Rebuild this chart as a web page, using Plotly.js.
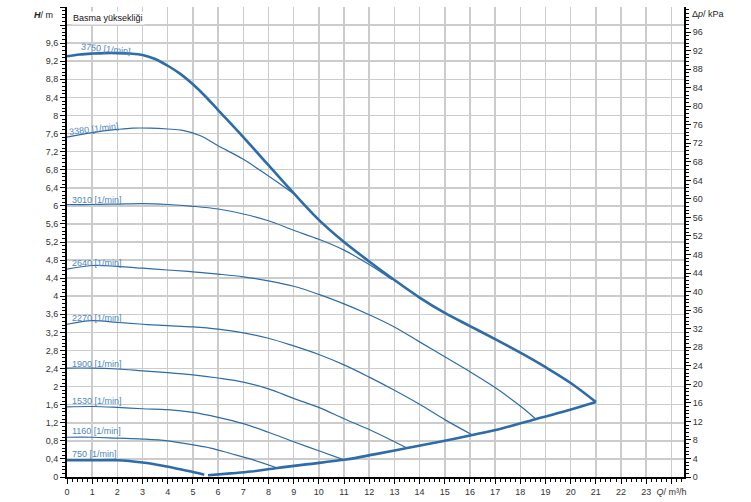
<!DOCTYPE html>
<html>
<head>
<meta charset="utf-8">
<script src="https://cdn.plot.ly/plotly-3.0.1.min.js"></script>
<style>html,body{margin:0;padding:0;background:#fff;}#chart{width:751px;height:502px;}</style>
</head>
<body>
<div id="chart"></div>
<script>
// Speed curves: flow Q (m³/h) and head H (m)
const q3750 = [0, 0.5, 1, 1.5, 2, 2.5, 3, 3.5, 4, 4.5, 5, 5.5, 6, 7, 8, 9, 10, 11, 12, 13, 14, 15, 16, 17, 18, 19, 20, 21];
const h3750 = [9.31, 9.35, 9.37, 9.38, 9.38, 9.37, 9.34, 9.25, 9.10, 8.92, 8.69, 8.42, 8.12, 7.52, 6.90, 6.28, 5.69, 5.20, 4.77, 4.36, 3.97, 3.63, 3.34, 3.05, 2.75, 2.43, 2.08, 1.66];
const q3380 = [0, 1, 2, 2.6, 3.3, 4, 4.6, 5.3, 6, 7, 8, 8.6, 9];
const h3380 = [7.52, 7.62, 7.69, 7.72, 7.72, 7.70, 7.67, 7.55, 7.33, 7.03, 6.66, 6.43, 6.27];
const q3010 = [0, 1, 2, 3, 4, 5, 6, 7, 8, 9, 10, 11, 12, 12.9];
const h3010 = [6.03, 6.03, 6.04, 6.05, 6.03, 5.99, 5.93, 5.82, 5.67, 5.46, 5.26, 5.02, 4.70, 4.37];
const q2640 = [0, 1, 2, 3, 4, 5, 6, 7, 8, 9, 10, 11, 12, 13, 14, 15, 16, 17, 18, 18.6];
const h2640 = [4.60, 4.68, 4.66, 4.62, 4.58, 4.54, 4.49, 4.43, 4.34, 4.22, 4.04, 3.83, 3.59, 3.32, 2.99, 2.66, 2.33, 1.98, 1.57, 1.29];
const q2270 = [0, 1, 2, 3, 4, 5, 6, 7, 8, 9, 10, 11, 12, 13, 14, 15, 16.1];
const h2270 = [3.38, 3.46, 3.42, 3.38, 3.35, 3.32, 3.27, 3.19, 3.07, 2.90, 2.71, 2.48, 2.21, 1.92, 1.61, 1.27, 0.93];
const q1900 = [0, 1, 2, 3, 4, 5, 6, 7, 8, 9, 10, 11, 12, 13, 13.5];
const h1900 = [2.41, 2.41, 2.39, 2.35, 2.31, 2.26, 2.19, 2.10, 1.95, 1.74, 1.54, 1.29, 1.05, 0.78, 0.64];
const q1530 = [0, 1, 2, 3, 4, 5, 6, 7, 8, 9, 10, 11];
const h1530 = [1.55, 1.56, 1.54, 1.51, 1.49, 1.43, 1.32, 1.18, 0.99, 0.78, 0.58, 0.38];
const q1160 = [0, 1, 2, 3, 4, 5, 5.7, 6.5, 7.4, 8.35];
const h1160 = [0.88, 0.88, 0.86, 0.84, 0.80, 0.71, 0.64, 0.52, 0.38, 0.20];
const q750 = [0, 1, 2, 3, 3.8, 4.5, 5, 5.45];
const h750 = [0.37, 0.37, 0.37, 0.32, 0.25, 0.17, 0.11, 0.05];
// Limit (min operating) curve
const qLimit = [5.6, 6.5, 7.3, 8.35, 9.5, 11, 12.2, 13.5, 14.8, 16.1, 17.3, 18.6, 19.8, 21];
const hLimit = [0.04, 0.08, 0.12, 0.20, 0.28, 0.38, 0.50, 0.64, 0.78, 0.93, 1.08, 1.28, 1.46, 1.66];

const speedLabels = ["3750 [1/min]", "3380 [1/min]", "3010 [1/min]", "2640 [1/min]", "2270 [1/min]", "1900 [1/min]", "1530 [1/min]", "1160 [1/min]", "750 [1/min]"];
const labelQ = [1.54, 1.06, 0.13, 0.13, 0.13, 0.13, 0.13, 0.13, 0.13];
const labelH = [9.46, 7.71, 6.14, 4.73, 3.52, 2.50, 1.68, 1.02, 0.51];

const qTickVals = [0, 1, 2, 3, 4, 5, 6, 7, 8, 9, 10, 11, 12, 13, 14, 15, 16, 17, 18, 19, 20, 21, 22, 23, 24];
const qTickText = ["0", "1", "2", "3", "4", "5", "6", "7", "8", "9", "10", "11", "12", "13", "14", "15", "16", "17", "18", "19", "20", "21", "22", "23", "<i>Q</i>/ m³/h"];
const hTickVals = [0, 0.4, 0.8, 1.2, 1.6, 2, 2.4, 2.8, 3.2, 3.6, 4, 4.4, 4.8, 5.2, 5.6, 6, 6.4, 6.8, 7.2, 7.6, 8, 8.4, 8.8, 9.2, 9.6, 10, 10.4];
const hTickText = ["0", "0,4", "0,8", "1,2", "1,6", "2", "2,4", "2,8", "3,2", "3,6", "4", "4,4", "4,8", "5,2", "5,6", "6", "6,4", "6,8", "7,2", "7,6", "8", "8,4", "8,8", "9,2", "9,6", "", ""];
const pTickVals = [0, 4, 8, 12, 16, 20, 24, 28, 32, 36, 40, 44, 48, 52, 56, 60, 64, 68, 72, 76, 80, 84, 88, 92, 96];

const LINE = "#2d6ca8";
const LABEL = "#4f86c0";
const thin = 1.2, thick = 2.6;

function curve(x, y, w) {
  return {x: x, y: y, type: "scatter", mode: "lines", hoverinfo: "skip",
          line: {color: LINE, width: w, shape: "spline", smoothing: 1.0}, showlegend: false};
}

const traces = [
  curve(q3380, h3380, thin),
  curve(q3010, h3010, thin),
  curve(q2640, h2640, thin),
  curve(q2270, h2270, thin),
  curve(q1900, h1900, thin),
  curve(q1530, h1530, thin),
  curve(q1160, h1160, thin),
  curve(q750, h750, thick),
  curve(qLimit, hLimit, thick),
  curve(q3750, h3750, thick),
  {x: [0], y: [0], yaxis: "y2", type: "scatter", mode: "markers", marker: {opacity: 0}, hoverinfo: "skip", showlegend: false}
];

const tickFont = {family: "Liberation Sans, Arial, sans-serif", size: 9, color: "#333"};

const annotations = speedLabels.map((t, i) => ({
  x: labelQ[i], y: labelH[i], xref: "x", yref: "y", text: t, showarrow: false,
  xanchor: i < 2 ? "center" : "left", yanchor: "middle",
  textangle: i === 0 ? 6 : (i === 1 ? -7 : 0),
  font: {family: "Liberation Sans, Arial, sans-serif", size: 9, color: LABEL}
}));
annotations.push({xref: "paper", yref: "paper", x: 0.007, y: 0.977, xanchor: "left", yanchor: "middle",
  text: "Basma yüksekliği", showarrow: false, bgcolor: "#fff",
  font: {family: "Liberation Sans, Arial, sans-serif", size: 9, color: "#111"}});
annotations.push({xref: "paper", yref: "paper", x: -0.019, y: 0.983, xanchor: "right", yanchor: "middle",
  text: "<b><i>H</i></b>/ m", showarrow: false,
  font: {family: "Liberation Sans, Arial, sans-serif", size: 9, color: "#222"}});
annotations.push({xref: "paper", yref: "paper", x: 1.01, y: 0.985, xanchor: "left", yanchor: "middle",
  text: "Δ<i>p</i>/ kPa", showarrow: false,
  font: {family: "Liberation Sans, Arial, sans-serif", size: 9, color: "#222"}});

const layout = {
  width: 751, height: 502,
  margin: {l: 67, r: 67, t: 7, b: 25, pad: 0},
  paper_bgcolor: "#fff", plot_bgcolor: "#fff",
  showlegend: false,
  xaxis: {
    range: [0, 24.5], tickmode: "array", tickvals: qTickVals, ticktext: qTickText,
    showgrid: true, gridcolor: "#cccccc", gridwidth: 1.5, zeroline: false,
    showline: true, linecolor: "#000", linewidth: 2,
    ticks: "outside", ticklen: 5, tickwidth: 1, tickcolor: "#000",
    minor: {tickmode: "linear", tick0: 0, dtick: 0.2, ticks: "outside", ticklen: 3, tickcolor: "#000", tickwidth: 1, showgrid: false},
    tickfont: tickFont, fixedrange: true
  },
  yaxis: {
    range: [0, 10.4], tickmode: "array", tickvals: hTickVals, ticktext: hTickText,
    showgrid: true, gridcolor: "#cccccc", gridwidth: 1.5, zeroline: false,
    showline: true, linecolor: "#000", linewidth: 2,
    ticks: "outside", ticklen: 5, tickwidth: 1, tickcolor: "#000",
    minor: {tickmode: "linear", tick0: 0, dtick: 0.08, ticks: "outside", ticklen: 3, tickcolor: "#000", tickwidth: 1, showgrid: false},
    tickfont: tickFont, fixedrange: true
  },
  yaxis2: {
    overlaying: "y", side: "right", range: [0, 101.4], tickmode: "array", tickvals: pTickVals,
    showgrid: false, zeroline: false,
    showline: true, linecolor: "#000", linewidth: 2,
    ticks: "outside", ticklen: 5, tickwidth: 1, tickcolor: "#000",
    minor: {tickmode: "linear", tick0: 0, dtick: 0.8, ticks: "outside", ticklen: 3, tickcolor: "#000", tickwidth: 1, showgrid: false},
    tickfont: tickFont, fixedrange: true
  },
  annotations: annotations
};

Plotly.newPlot("chart", traces, layout, {staticPlot: true, displayModeBar: false});
</script>
</body>
</html>
